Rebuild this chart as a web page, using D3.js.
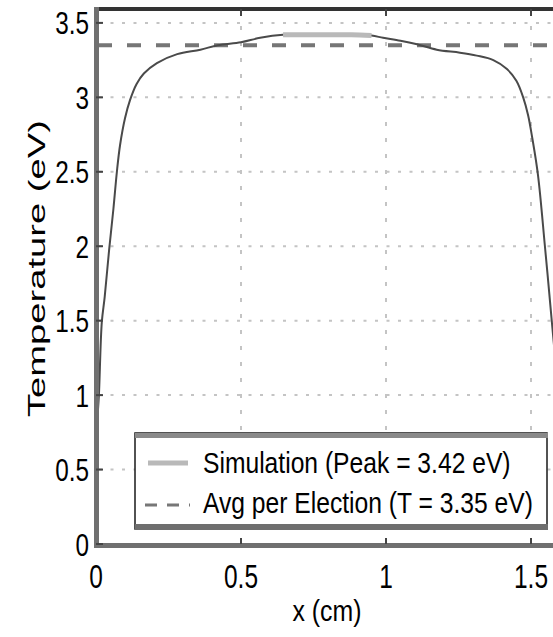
<!DOCTYPE html>
<html>
<head>
<meta charset="utf-8">
<script src="https://cdn.jsdelivr.net/npm/d3@7"></script>
<style>
  html, body { margin: 0; padding: 0; background: #fff; }
  svg { display: block; }
  text { font-family: "Liberation Sans", Arial, Helvetica, sans-serif; fill: #000; }
</style>
</head>
<body>
<svg id="chart" width="553" height="637"></svg>
<script>
// Electron temperature profile across the gap
const xPos = [0, 0.005, 0.01, 0.02, 0.03, 0.045, 0.06, 0.072, 0.083, 0.1, 0.117, 0.14, 0.165, 0.21, 0.28, 0.36, 0.42, 0.5, 0.566, 0.645, 0.7, 0.8, 0.88, 0.95, 0.99, 1.05, 1.107, 1.175, 1.255, 1.313, 1.37, 1.417, 1.45, 1.473, 1.49, 1.505, 1.524, 1.548, 1.572, 1.585, 1.6];
const tempEV = [0.7, 0.85, 1.0, 1.49, 1.66, 1.97, 2.25, 2.5, 2.68, 2.86, 2.98, 3.09, 3.16, 3.23, 3.29, 3.32, 3.35, 3.37, 3.40, 3.42, 3.42, 3.42, 3.42, 3.415, 3.40, 3.38, 3.356, 3.32, 3.30, 3.28, 3.25, 3.19, 3.11, 3.0, 2.88, 2.72, 2.48, 2.0, 1.49, 1.2, 0.7];
const peakT = 3.42;
const avgT = 3.35;

const xTicks = [0, 0.5, 1, 1.5];
const xTickLabels = ["0", "0.5", "1", "1.5"];
const yTicks = [0, 0.5, 1, 1.5, 2, 2.5, 3, 3.5];
const yTickLabels = ["0", "0.5", "1", "1.5", "2", "2.5", "3", "3.5"];
const legendLabels = ["Simulation (Peak = 3.42 eV)", "Avg per Election (T = 3.35 eV)"];

const svg = d3.select("#chart");
const x = d3.scaleLinear().domain([0, 1.6]).range([96, 560]);
const y = d3.scaleLinear().domain([0, 3.6]).range([544, 8]);

const data = xPos.map((v, i) => ({ x: v, t: tempEV[i] }));

svg.append("defs").append("clipPath").attr("id", "plotClip")
  .append("rect").attr("x", 96).attr("y", 8).attr("width", 464).attr("height", 536);

// grid
const grid = svg.append("g").attr("class", "grid");
grid.selectAll("line.h").data(yTicks.filter(v => v > 0)).join("line")
  .attr("x1", x(0) + 3).attr("x2", 553)
  .attr("y1", d => y(d)).attr("y2", d => y(d))
  .attr("stroke", "#c4c4c4").attr("stroke-width", 2)
  .attr("stroke-dasharray", "3,8.5");
grid.selectAll("line.v").data(xTicks.filter(v => v > 0)).join("line")
  .attr("x1", d => x(d)).attr("x2", d => x(d))
  .attr("y1", y(3.6) + 2).attr("y2", y(0))
  .attr("stroke", "#c4c4c4").attr("stroke-width", 2)
  .attr("stroke-dasharray", "4,12");

const plot = svg.append("g").attr("clip-path", "url(#plotClip)");

// average temperature reference
plot.append("line")
  .attr("x1", 98).attr("x2", 560)
  .attr("y1", y(avgT)).attr("y2", y(avgT))
  .attr("stroke", "#767676").attr("stroke-width", 4)
  .attr("stroke-dasharray", "14,15");

const line = d3.line().x(d => x(d.x)).y(d => y(d.t)).curve(d3.curveCatmullRom.alpha(0.5));

plot.append("path").datum(data)
  .attr("d", line).attr("fill", "none")
  .attr("stroke", "#4a4a4a").attr("stroke-width", 2);

// plateau near the peak
plot.append("path").datum(data.filter(d => d.t >= peakT - 0.006))
  .attr("d", line).attr("fill", "none")
  .attr("stroke", "#b9b9b9").attr("stroke-width", 5);

// axes frame
svg.append("line").attr("x1", 94).attr("x2", 553).attr("y1", 9).attr("y2", 9)
  .attr("stroke", "#333").attr("stroke-width", 4);
svg.append("line").attr("x1", 96.5).attr("x2", 96.5).attr("y1", 7).attr("y2", 548)
  .attr("stroke", "#707070").attr("stroke-width", 5);
svg.append("line").attr("x1", 94).attr("x2", 553).attr("y1", 545.5).attr("y2", 545.5)
  .attr("stroke", "#707070").attr("stroke-width", 5);

// tick marks
svg.append("g").selectAll("line").data(yTicks).join("line")
  .attr("x1", 96).attr("x2", 103).attr("y1", d => y(d)).attr("y2", d => y(d))
  .attr("stroke", "#444").attr("stroke-width", 2);
svg.append("g").selectAll("line").data(xTicks.filter(v => v > 0)).join("line")
  .attr("x1", d => x(d)).attr("x2", d => x(d)).attr("y1", 544).attr("y2", 538)
  .attr("stroke", "#444").attr("stroke-width", 2);
svg.append("g").selectAll("line").data(xTicks.filter(v => v > 0)).join("line")
  .attr("x1", d => x(d)).attr("x2", d => x(d)).attr("y1", 9).attr("y2", 16)
  .attr("stroke", "#444").attr("stroke-width", 2);

// tick labels (narrow face)
svg.append("g").selectAll("text").data(yTicks).join("text")
  .attr("transform", d => `translate(89,${y(d) + 11.5}) scale(0.76,1)`)
  .attr("text-anchor", "end").attr("font-size", 32)
  .text((d, i) => yTickLabels[i]);
svg.append("g").selectAll("text").data(xTicks).join("text")
  .attr("transform", d => `translate(${x(d)},588) scale(0.72,1)`)
  .attr("text-anchor", "middle").attr("font-size", 34)
  .text((d, i) => xTickLabels[i]);

// axis titles
svg.append("text")
  .attr("transform", "translate(45,268.5) rotate(-90)")
  .attr("text-anchor", "middle").attr("font-size", 24)
  .attr("textLength", 297).attr("lengthAdjust", "spacingAndGlyphs")
  .text("Temperature (eV)");
svg.append("text")
  .attr("x", 327).attr("y", 621)
  .attr("text-anchor", "middle").attr("font-size", 30)
  .attr("textLength", 69).attr("lengthAdjust", "spacingAndGlyphs")
  .text("x (cm)");

// legend
const lg = svg.append("g");
lg.append("rect").attr("x", 135).attr("y", 433).attr("width", 412).attr("height", 96)
  .attr("fill", "#fff").attr("stroke", "#1a1a1a").attr("stroke-width", 1.5);
lg.append("rect").attr("x", 135).attr("y", 433).attr("width", 413).attr("height", 5).attr("fill", "#8a8a8a");
lg.append("rect").attr("x", 135).attr("y", 524).attr("width", 413).attr("height", 6).attr("fill", "#6e6e6e");
lg.append("line").attr("x1", 148).attr("x2", 188).attr("y1", 463).attr("y2", 463)
  .attr("stroke", "#b9b9b9").attr("stroke-width", 5);
lg.append("line").attr("x1", 145).attr("x2", 190).attr("y1", 505).attr("y2", 505)
  .attr("stroke", "#777").attr("stroke-width", 3).attr("stroke-dasharray", "12,10");
lg.append("text").attr("transform", "translate(203,473) scale(0.85,1)").attr("font-size", 29)
  .text(legendLabels[0]);
lg.append("text").attr("transform", "translate(203,513) scale(0.85,1)").attr("font-size", 29)
  .text(legendLabels[1]);
</script>
</body>
</html>
